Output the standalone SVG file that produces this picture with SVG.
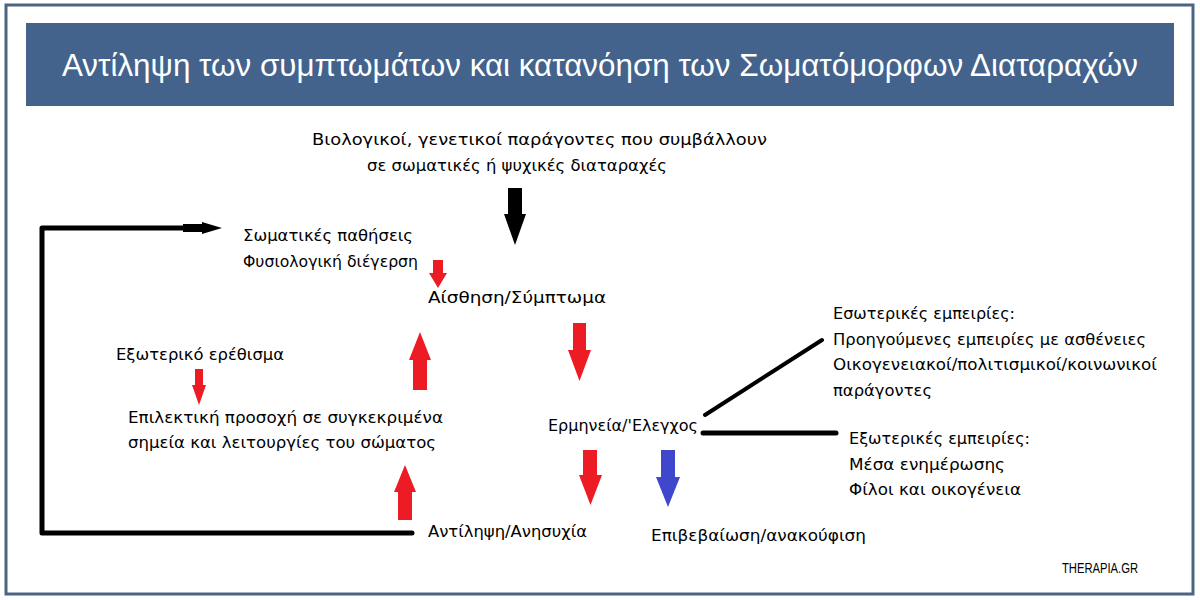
<svg xmlns="http://www.w3.org/2000/svg" width="1200" height="600" viewBox="0 0 1200 600">
<style>
.t{font-family:"DejaVu Sans","Noto Sans",sans-serif;font-size:16.5px;fill:#000}
.title{font-family:"Liberation Sans","DejaVu Sans",sans-serif;font-size:31px;fill:#fff;font-weight:300}
.wm{font-family:"Liberation Sans","DejaVu Sans",sans-serif;font-size:15.5px;fill:#000}
.red{fill:#ED1C24}
.blk{fill:#000}
.blue{fill:#3F48CC}
.ln{stroke:#000;fill:none;stroke-linecap:round;stroke-linejoin:round}
</style>
<rect x="0" y="0" width="1200" height="600" fill="#fff"/>
<rect x="6" y="5" width="1187" height="589" fill="none" stroke="#4A6584" stroke-width="3"/>
<g id="title">
<rect x="26" y="23" width="1148" height="83" fill="#43638C"/>
<text class="title" x="62" y="76" textLength="1076" lengthAdjust="spacingAndGlyphs">Αντίληψη των συμπτωμάτων και κατανόηση των Σωματόμορφων Διαταραχών</text>
</g>
<g id="connectors">
<path class="ln" d="M412,533 H42 V228 H190" stroke-width="5"/>
<path class="blk" d="M183,224 H202 V222 L222,228 L202,234 V232 H183 Z"/>
<path class="blk" d="M508,188 H522 V214 H526 L515,245 L504,214 H508 Z"/>
<path class="red" d="M433,260 H443 V273 H447 L438,288 L429,273 H433 Z"/>
<path class="red" d="M573,323 H586 V350 H591 L579.5,381 L568,350 H573 Z"/>
<path class="red" d="M413,390 V360 H409 L420,332 L431,360 H427 V390 Z"/>
<path class="red" d="M398,520 V492 H394 L405,465 L416,492 H412 V520 Z"/>
<path class="red" d="M583,450 H597 V475 H602 L590.5,505 L579,475 H583 Z"/>
<path class="blue" d="M661,450 H675 V477 H680 L668,507 L656,477 H661 Z"/>
<path class="red" d="M195,369 H203 V385 H206 L199,405 L192,385 H195 Z"/>
<path class="ln" d="M705,415 L822,340" stroke-width="4"/>
<path class="ln" d="M703,433 H836" stroke-width="5"/>
</g>
<g id="node-bio">
<text class="t" x="312" y="145" textLength="455" lengthAdjust="spacingAndGlyphs">Βιολογικοί, γενετικοί παράγοντες που συμβάλλουν</text>
<text class="t" x="367" y="171" textLength="300" lengthAdjust="spacingAndGlyphs">σε σωματικές ή ψυχικές διαταραχές</text>
</g>
<g id="node-somatic">
<text class="t" x="243" y="241" textLength="170" lengthAdjust="spacingAndGlyphs">Σωματικές παθήσεις</text>
<text class="t" x="243" y="267" textLength="175" lengthAdjust="spacingAndGlyphs">Φυσιολογική διέγερση</text>
</g>
<g id="node-sensation"><text class="t" x="428" y="303" textLength="178" lengthAdjust="spacingAndGlyphs">Αίσθηση/Σύμπτωμα</text></g>
<g id="node-external-stim"><text class="t" x="116" y="360" textLength="168" lengthAdjust="spacingAndGlyphs">Εξωτερικό ερέθισμα</text></g>
<g id="node-attention">
<text class="t" x="128" y="423" textLength="315" lengthAdjust="spacingAndGlyphs">Επιλεκτική προσοχή σε συγκεκριμένα</text>
<text class="t" x="128" y="448" textLength="308" lengthAdjust="spacingAndGlyphs">σημεία και λειτουργίες του σώματος</text>
</g>
<g id="node-interpretation"><text class="t" x="548" y="431" textLength="150" lengthAdjust="spacingAndGlyphs">Ερμηνεία/'Ελεγχος</text></g>
<g id="node-perception"><text class="t" x="428" y="537" textLength="159" lengthAdjust="spacingAndGlyphs">Αντίληψη/Ανησυχία</text></g>
<g id="node-confirmation"><text class="t" x="651" y="541" textLength="215" lengthAdjust="spacingAndGlyphs">Επιβεβαίωση/ανακούφιση</text></g>
<g id="node-internal">
<text class="t" x="833" y="319" textLength="182" lengthAdjust="spacingAndGlyphs">Εσωτερικές εμπειρίες:</text>
<text class="t" x="833" y="345" textLength="313" lengthAdjust="spacingAndGlyphs">Προηγούμενες εμπειρίες με ασθένειες</text>
<text class="t" x="833" y="370" textLength="324" lengthAdjust="spacingAndGlyphs">Οικογενειακοί/πολιτισμικοί/κοινωνικοί</text>
<text class="t" x="833" y="396" textLength="99" lengthAdjust="spacingAndGlyphs">παράγοντες</text>
</g>
<g id="node-external-exp">
<text class="t" x="849" y="444" textLength="181" lengthAdjust="spacingAndGlyphs">Εξωτερικές εμπειρίες:</text>
<text class="t" x="849" y="470" textLength="156" lengthAdjust="spacingAndGlyphs">Μέσα ενημέρωσης</text>
<text class="t" x="849" y="495" textLength="172" lengthAdjust="spacingAndGlyphs">Φίλοι και οικογένεια</text>
</g>
<g id="watermark"><text class="wm" x="1062" y="573" textLength="76" lengthAdjust="spacingAndGlyphs">THERAPIA.GR</text></g>
</svg>
